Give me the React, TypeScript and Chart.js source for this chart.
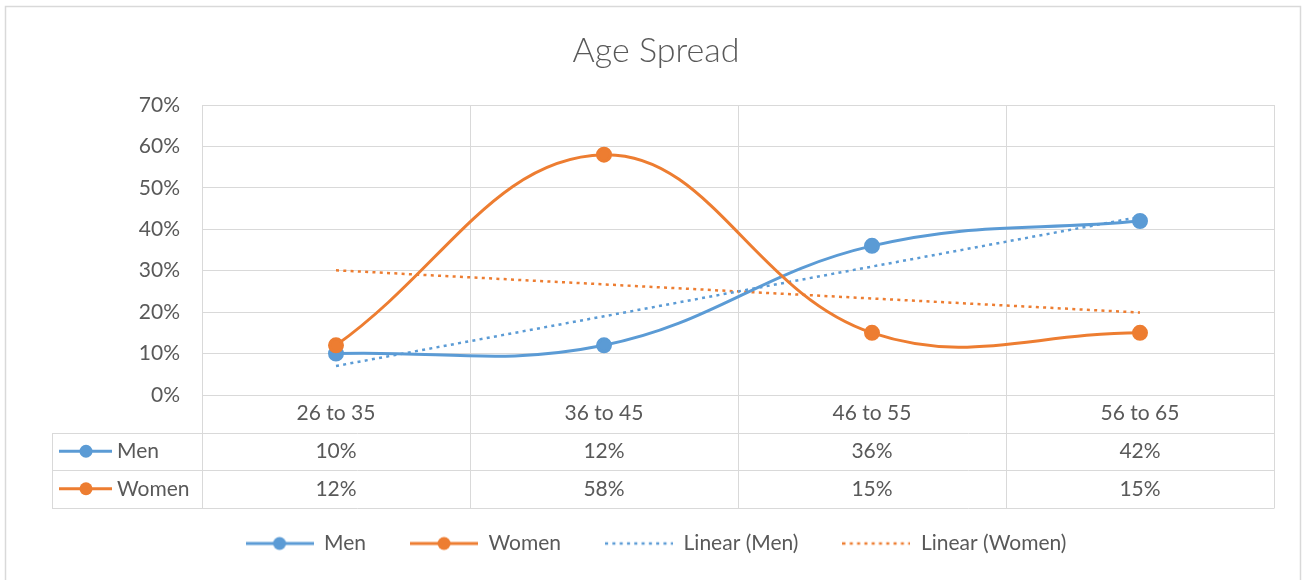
import React, { useEffect, useRef } from 'react';
import { Chart, registerables } from 'chart.js';

Chart.register(...registerables);

const categories = ['26 to 35', '36 to 45', '46 to 55', '56 to 65'];
const menValues = [10, 12, 36, 42];
const womenValues = [12, 58, 15, 15];
const menTrend = [7, 19, 31, 43];
const womenTrend = [30.1, 26.7, 23.3, 19.9];
const seriesNames = ['Men', 'Women'];
const legendNames = ['Men', 'Women', 'Linear (Men)', 'Linear (Women)'];

const MEN = '#5B9BD5';
const WOMEN = '#ED7D31';
const TEXT = '#595959';
const GRID = '#D9D9D9';
const FONT = 'Lato';
const FS = 21;

function makeKey(color: string, dotted: boolean): HTMLCanvasElement {
  const c = document.createElement('canvas');
  c.width = 68;
  c.height = 16;
  const g = c.getContext('2d')!;
  g.strokeStyle = color;
  g.fillStyle = color;
  g.beginPath();
  if (dotted) {
    g.lineWidth = 2.5;
    g.setLineDash([3, 4.3]);
    g.moveTo(0, 8);
    g.lineTo(68, 8);
    g.stroke();
  } else {
    g.lineWidth = 3;
    g.moveTo(0, 8);
    g.lineTo(68, 8);
    g.stroke();
    g.beginPath();
    g.arc(34, 8, 6.5, 0, Math.PI * 2);
    g.fill();
  }
  return c;
}

const framePlugin = {
  id: 'frame',
  beforeDraw(chart: any) {
    const { ctx, width, height } = chart;
    ctx.save();
    ctx.fillStyle = '#ffffff';
    ctx.fillRect(0, 0, width, height);
    ctx.strokeStyle = GRID;
    ctx.lineWidth = 1.5;
    ctx.strokeRect(5.5, 6.5, width - 7, height + 20);
    ctx.restore();
  },
};

const tablePlugin = {
  id: 'dataTable',
  afterDraw(chart: any) {
    const { ctx, chartArea } = chart;
    const x = chart.scales.x;
    const left = chartArea.left;
    const right = chartArea.right;
    const top = chartArea.bottom;
    const labelLeft = left - 150;
    const rowH = 37.5;
    const rows = [top + rowH, top + rowH * 2, top + rowH * 3];
    const half = (x.getPixelForValue(1) - x.getPixelForValue(0)) / 2;
    ctx.save();
    ctx.strokeStyle = GRID;
    ctx.lineWidth = 1;
    ctx.beginPath();
    rows.forEach((y) => {
      const yy = Math.round(y) + 0.5;
      ctx.moveTo(labelLeft, yy);
      ctx.lineTo(right, yy);
    });
    ctx.moveTo(labelLeft + 0.5, Math.round(rows[0]) + 0.5);
    ctx.lineTo(labelLeft + 0.5, Math.round(rows[2]) + 0.5);
    for (let i = 0; i <= categories.length; i++) {
      const bx = Math.round(x.getPixelForValue(i) - half) + 0.5;
      ctx.moveTo(bx, top);
      ctx.lineTo(bx, Math.round(rows[2]) + 0.5);
    }
    ctx.stroke();

    ctx.font = `${FS}px ${FONT}`;
    ctx.fillStyle = TEXT;
    ctx.textBaseline = 'middle';
    const data = [menValues, womenValues];
    const colors = [MEN, WOMEN];
    data.forEach((vals, r) => {
      const cy = (rows[r] + (r === 0 ? rows[1] : rows[2])) / 2;
      ctx.textAlign = 'center';
      ctx.fillStyle = TEXT;
      vals.forEach((v, i) => {
        ctx.fillText(`${v}%`, x.getPixelForValue(i), cy);
      });
      ctx.strokeStyle = colors[r];
      ctx.fillStyle = colors[r];
      ctx.lineWidth = 3;
      ctx.beginPath();
      ctx.moveTo(labelLeft + 7, cy);
      ctx.lineTo(labelLeft + 60, cy);
      ctx.stroke();
      ctx.beginPath();
      ctx.arc(labelLeft + 34, cy, 6.5, 0, Math.PI * 2);
      ctx.fill();
      ctx.fillStyle = TEXT;
      ctx.textAlign = 'left';
      ctx.fillText(seriesNames[r], labelLeft + 65, cy);
    });
    ctx.restore();
  },
};

export default function App() {
  const ref = useRef<HTMLCanvasElement>(null);

  useEffect(() => {
    document.body.style.margin = '0';
    const keys = [makeKey(MEN, false), makeKey(WOMEN, false), makeKey(MEN, true), makeKey(WOMEN, true)];
    const chart = new Chart(ref.current!, {
      type: 'line',
      data: {
        labels: categories,
        datasets: [
          {
            label: 'Men',
            data: menValues,
            borderColor: MEN,
            backgroundColor: MEN,
            borderWidth: 3,
            pointRadius: 6.5,
            pointBackgroundColor: MEN,
            pointBorderColor: MEN,
            tension: 0.4,
            order: 1,
          },
          {
            label: 'Women',
            data: womenValues,
            borderColor: WOMEN,
            backgroundColor: WOMEN,
            borderWidth: 3,
            pointRadius: 6.5,
            pointBackgroundColor: WOMEN,
            pointBorderColor: WOMEN,
            tension: 0.4,
            order: 0,
          },
          {
            label: 'Linear (Men)',
            data: menTrend,
            borderColor: MEN,
            borderWidth: 2.5,
            borderDash: [3, 4.3],
            pointRadius: 0,
            tension: 0,
            order: 2,
          },
          {
            label: 'Linear (Women)',
            data: womenTrend,
            borderColor: WOMEN,
            borderWidth: 2.5,
            borderDash: [3, 4.3],
            pointRadius: 0,
            tension: 0,
            order: 3,
          },
        ],
      },
      options: {
        responsive: false,
        animation: false,
        devicePixelRatio: 1,
        layout: { padding: { left: 38, right: 28, top: 0, bottom: 16 } },
        plugins: {
          title: {
            display: true,
            text: 'Age Spread',
            color: TEXT,
            font: { family: FONT, size: 34, weight: '300' as any },
            padding: { top: 31, bottom: 33.2 },
          },
          legend: {
            display: true,
            position: 'bottom',
            labels: {
              usePointStyle: true,
              pointStyleWidth: 68,
              padding: 44,
              color: TEXT,
              font: { family: FONT, size: FS },
              generateLabels: () =>
                legendNames.map((name, i) => ({
                  text: name,
                  pointStyle: keys[i] as any,
                  fillStyle: i % 2 === 0 ? MEN : WOMEN,
                  strokeStyle: i % 2 === 0 ? MEN : WOMEN,
                  lineWidth: 0,
                  hidden: false,
                  datasetIndex: i,
                  fontColor: TEXT,
                })),
            },
          },
          tooltip: { enabled: false },
        },
        scales: {
          x: {
            type: 'category',
            offset: true,
            grid: { offset: true, color: GRID, lineWidth: 1, drawTicks: false },
            border: { display: false },
            ticks: { color: TEXT, font: { family: FONT, size: FS }, padding: 5.4, maxRotation: 0 },
            afterFit: (s: any) => {
              s.height = 94;
            },
          },
          y: {
            min: 0,
            max: 70,
            grid: { color: GRID, lineWidth: 1, drawTicks: false },
            border: { display: false },
            ticks: {
              stepSize: 10,
              color: TEXT,
              font: { family: FONT, size: FS },
              padding: 22,
              callback: (v: any) => `${v}%`,
            },
            afterFit: (s: any) => {
              s.width = 164;
            },
          },
        },
      },
      plugins: [framePlugin, tablePlugin],
    });
    return () => chart.destroy();
  }, []);

  return (
    <div style={{ position: 'absolute', left: 0, top: 0, width: 1302, height: 580 }}>
      <canvas ref={ref} width={1302} height={580} />
    </div>
  );
}
